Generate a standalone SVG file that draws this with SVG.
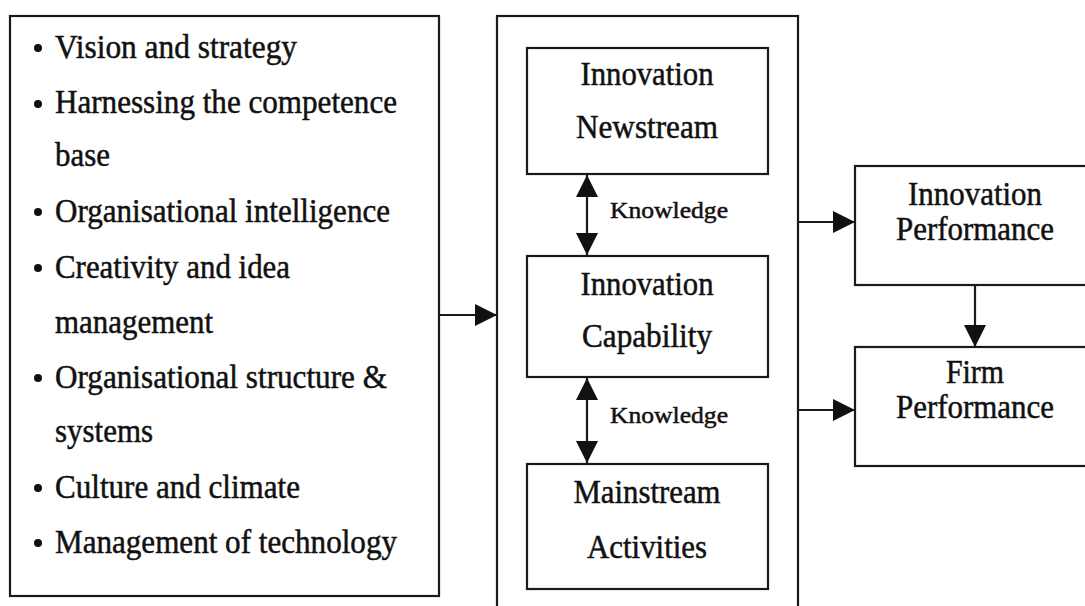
<svg xmlns="http://www.w3.org/2000/svg" width="1085" height="606" viewBox="0 0 1085 606">
<defs>
<style>
.box{fill:#fff;stroke:#1a1a1a;stroke-width:2.2}
.t{font-family:"Liberation Serif","Times New Roman",serif;font-size:34px;fill:#111;stroke:#111;stroke-width:0.5}
.c{text-anchor:middle}
.k{font-family:"Liberation Serif","Times New Roman",serif;font-size:24px;fill:#111;stroke:#111;stroke-width:0.5}
.ln{stroke:#1a1a1a;stroke-width:2.2;fill:none}
</style>
<marker id="ah" markerUnits="userSpaceOnUse" markerWidth="22" markerHeight="22" viewBox="0 0 20 20" refX="20" refY="10" orient="auto">
<path d="M0,0 L20,10 L0,20 Z" fill="#111"/>
</marker>
<marker id="as" markerUnits="userSpaceOnUse" markerWidth="22" markerHeight="22" viewBox="0 0 20 20" refX="0" refY="10" orient="auto">
<path d="M20,0 L0,10 L20,20 Z" fill="#111"/>
</marker>
</defs>
<rect width="1085" height="606" fill="#fff"/>
<g id="drivers">
<rect class="box" x="10" y="16" width="429" height="580"/>
<g fill="#111">
<circle cx="38" cy="48" r="4"/>
<circle cx="38" cy="104" r="4"/>
<circle cx="38" cy="212" r="4"/>
<circle cx="38" cy="268" r="4"/>
<circle cx="38" cy="378" r="4"/>
<circle cx="38" cy="488" r="4"/>
<circle cx="38" cy="543" r="4"/>
</g>
<text class="t" x="55" y="58" textLength="242" lengthAdjust="spacingAndGlyphs">Vision and strategy</text>
<text class="t" x="55" y="113" textLength="342" lengthAdjust="spacingAndGlyphs">Harnessing the competence</text>
<text class="t" x="55" y="166" textLength="55" lengthAdjust="spacingAndGlyphs">base</text>
<text class="t" x="55" y="222" textLength="335" lengthAdjust="spacingAndGlyphs">Organisational intelligence</text>
<text class="t" x="55" y="278" textLength="235" lengthAdjust="spacingAndGlyphs">Creativity and idea</text>
<text class="t" x="55" y="333" textLength="158" lengthAdjust="spacingAndGlyphs">management</text>
<text class="t" x="55" y="388" textLength="332" lengthAdjust="spacingAndGlyphs">Organisational structure &amp;</text>
<text class="t" x="55" y="442" textLength="98" lengthAdjust="spacingAndGlyphs">systems</text>
<text class="t" x="55" y="498" textLength="245" lengthAdjust="spacingAndGlyphs">Culture and climate</text>
<text class="t" x="55" y="553" textLength="342" lengthAdjust="spacingAndGlyphs">Management of technology</text>
</g>
<g id="innovation-system">
<rect class="box" x="497" y="16" width="301" height="600"/>
</g>
<g id="newstream">
<rect class="box" x="527" y="48" width="241" height="126"/>
<text class="t c" x="647" y="85" textLength="133" lengthAdjust="spacingAndGlyphs">Innovation</text>
<text class="t c" x="647" y="138" textLength="142" lengthAdjust="spacingAndGlyphs">Newstream</text>
</g>
<g id="capability">
<rect class="box" x="527" y="256" width="241" height="121"/>
<text class="t c" x="647" y="295" textLength="133" lengthAdjust="spacingAndGlyphs">Innovation</text>
<text class="t c" x="647" y="347" textLength="130" lengthAdjust="spacingAndGlyphs">Capability</text>
</g>
<g id="mainstream">
<rect class="box" x="527" y="464" width="241" height="125"/>
<text class="t c" x="647" y="503" textLength="147" lengthAdjust="spacingAndGlyphs">Mainstream</text>
<text class="t c" x="647" y="558" textLength="120" lengthAdjust="spacingAndGlyphs">Activities</text>
</g>
<g id="innovation-performance">
<rect class="box" x="855" y="166" width="240" height="119"/>
<text class="t c" x="975" y="205" textLength="134" lengthAdjust="spacingAndGlyphs">Innovation</text>
<text class="t c" x="975" y="240" textLength="158" lengthAdjust="spacingAndGlyphs">Performance</text>
</g>
<g id="firm-performance">
<rect class="box" x="855" y="347" width="240" height="119"/>
<text class="t c" x="975" y="383" textLength="58" lengthAdjust="spacingAndGlyphs">Firm</text>
<text class="t c" x="975" y="418" textLength="158" lengthAdjust="spacingAndGlyphs">Performance</text>
</g>
<g id="connectors">
<line class="ln" x1="439" y1="315" x2="497" y2="315" marker-end="url(#ah)"/>
<line class="ln" x1="587" y1="175" x2="587" y2="255" marker-start="url(#as)" marker-end="url(#ah)"/>
<line class="ln" x1="587" y1="378" x2="587" y2="463" marker-start="url(#as)" marker-end="url(#ah)"/>
<line class="ln" x1="798" y1="222" x2="855" y2="222" marker-end="url(#ah)"/>
<line class="ln" x1="798" y1="410" x2="855" y2="410" marker-end="url(#ah)"/>
<line class="ln" x1="975" y1="285" x2="975" y2="347" marker-end="url(#ah)"/>
<text class="k" x="610" y="218" textLength="118" lengthAdjust="spacingAndGlyphs">Knowledge</text>
<text class="k" x="610" y="423" textLength="118" lengthAdjust="spacingAndGlyphs">Knowledge</text>
</g>
</svg>
